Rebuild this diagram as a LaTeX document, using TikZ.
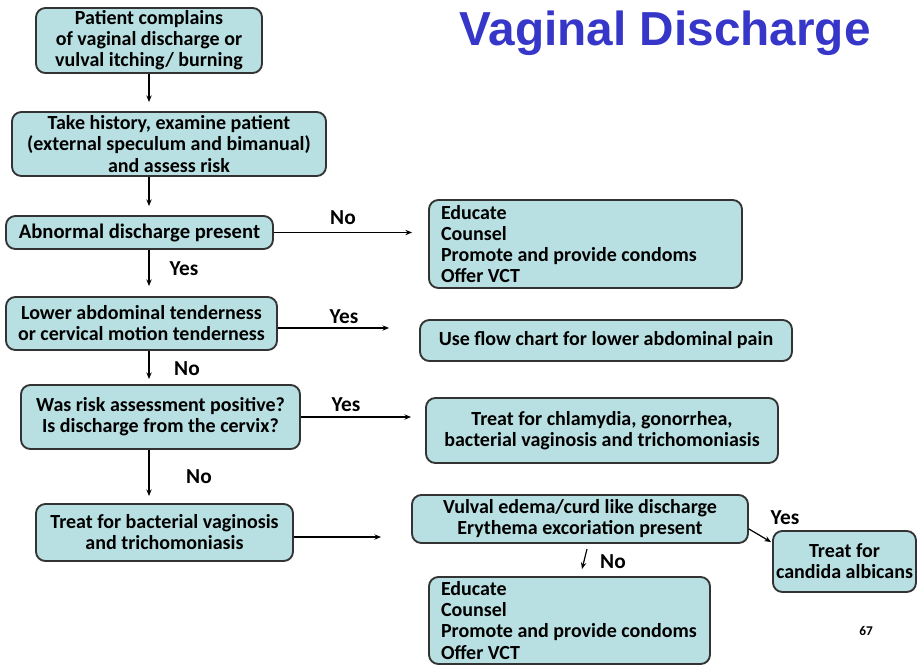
\documentclass[tikz,border=0pt]{standalone}
\usepackage{fontspec}
\setmainfont{Carlito}
\newfontfamily\titlefont{Liberation Sans}
\usetikzlibrary{arrows.meta,calc}
\definecolor{boxfill}{HTML}{B8DFE1}
\definecolor{boxline}{HTML}{333333}
\definecolor{titleblue}{HTML}{3636C8}

\begin{document}
\begin{tikzpicture}[x=0.75pt,y=-0.75pt,
  box/.style={draw=boxline, fill=boxfill, line width=1.4pt, rounded corners=7pt,
    inner sep=0pt, align=center, font=\bfseries\fontsize{15}{15.8}\selectfont},
  listbox/.style={box, align=flush left, inner xsep=9pt},
  arr/.style={-{Stealth[length=5pt,width=4pt]}, line width=0.9pt},
  lbl/.style={inner sep=0pt, font=\bfseries\fontsize{16}{16}\selectfont}]
\useasboundingbox (0,0) rectangle (917,664);

% title
\node[text=titleblue, font=\titlefont\bfseries\fontsize{35.8}{36}\selectfont, inner sep=0pt]
  (title) at (665,33) {Vaginal Discharge};

% main column
\node[box, minimum width=226*0.75pt, minimum height=65*0.75pt] (n1) at (149,40.5)
  {Patient complains\\of vaginal discharge or\\vulval itching/ burning};
\node[box, minimum width=314*0.75pt, minimum height=64*0.75pt] (n2) at (169,144)
  {Take history, examine patient\\(external speculum and bimanual)\\and assess risk};
\node[box, minimum width=267*0.75pt, minimum height=33*0.75pt, font=\bfseries\fontsize{15.5}{15.8}\selectfont] (n3) at (139.5,232.5)
  {Abnormal discharge present};
\node[box, minimum width=271*0.75pt, minimum height=53*0.75pt] (n5) at (141.5,323.5)
  {Lower abdominal tenderness\\or cervical motion tenderness};
\node[box, minimum width=279*0.75pt, minimum height=64*0.75pt] (n7) at (160.5,417)
  {Was risk assessment positive?\\Is discharge from the cervix?};
\node[box, minimum width=257*0.75pt, minimum height=57*0.75pt] (n9) at (164.5,532.5)
  {Treat for bacterial vaginosis\\and trichomoniasis};

% right column
\node[listbox, text width=216.75pt, minimum height=88*0.75pt] (n4) at (585.5,244)
  {Educate\\Counsel\\\mbox{Promote and provide condoms}\\Offer VCT};
\node[box, minimum width=372*0.75pt, minimum height=41*0.75pt] (n6) at (606,340.5)
  {Use flow chart for lower abdominal pain};
\node[box, minimum width=352*0.75pt, minimum height=65*0.75pt] (n8) at (602,430.5)
  {Treat for chlamydia, gonorrhea,\\bacterial vaginosis and trichomoniasis};
\node[box, minimum width=336*0.75pt, minimum height=48*0.75pt] (n10) at (580,519)
  {Vulval edema/curd like discharge\\Erythema excoriation present};
\node[box, minimum width=143*0.75pt, minimum height=61*0.75pt] (n11) at (844.5,561.5)
  {Treat for\\candida albicans};
\node[listbox, text width=192.75pt, minimum height=87*0.75pt] (n12) at (569.5,620.5)
  {Educate\\Counsel\\\mbox{Promote and provide condoms}\\Offer VCT};

% vertical spine of the main column
\coordinate (spine) at (149,0);
\draw[arr, shorten >=6.75pt] (n1.south -| spine) -- (n2.north -| spine);
\draw[arr, shorten >=6.75pt] (n2.south -| spine) -- (n3.north -| spine);
\draw[arr, shorten >=7.5pt]  (n3.south -| spine) -- (n5.north -| spine);
\draw[arr, shorten >=3.75pt] (n5.south -| spine) -- (n7.north -| spine);
\draw[arr, shorten >=5.25pt] (n7.south -| spine) -- (n9.north -| spine);

% side branches
\draw[arr, shorten >=12pt]   (n3.east) -- (n3.east -| n4.west);
\draw[arr, shorten >=22.5pt] ($(n5.east)+(0,4.5)$) -- ($(n5.east -| n6.west)+(0,4.5)$);
\draw[arr, shorten >=10.5pt] (n7.east) -- (n7.east -| n8.west);
\draw[arr, shorten >=22.5pt] ($(n9.east)+(0,4.5)$) -- ($(n9.east -| n10.west)+(0,4.5)$);
\draw[arr] ($(n10.east)+(0,10)$) -- ($(n11.north west)+(-1,12)$);
\draw[arr] ($(n10.south)+(7,5)$) -- ($(n12.north)+(12.5,-7)$);

% branch labels
\node[lbl] (l1) at (343,218) {No};
\node[lbl] (l2) at (184,269) {Yes};
\node[lbl] (l3) at (344,317) {Yes};
\node[lbl] (l4) at (187,369) {No};
\node[lbl] (l5) at (346,405) {Yes};
\node[lbl] (l6) at (199,477) {No};
\node[lbl] (l7) at (613,562) {No};
\node[lbl] (l8) at (785,518) {Yes};

% page number
\node[inner sep=0pt, font=\bfseries\fontsize{10}{10}\selectfont] (pg) at (866,631) {67};
\end{tikzpicture}
\end{document}
